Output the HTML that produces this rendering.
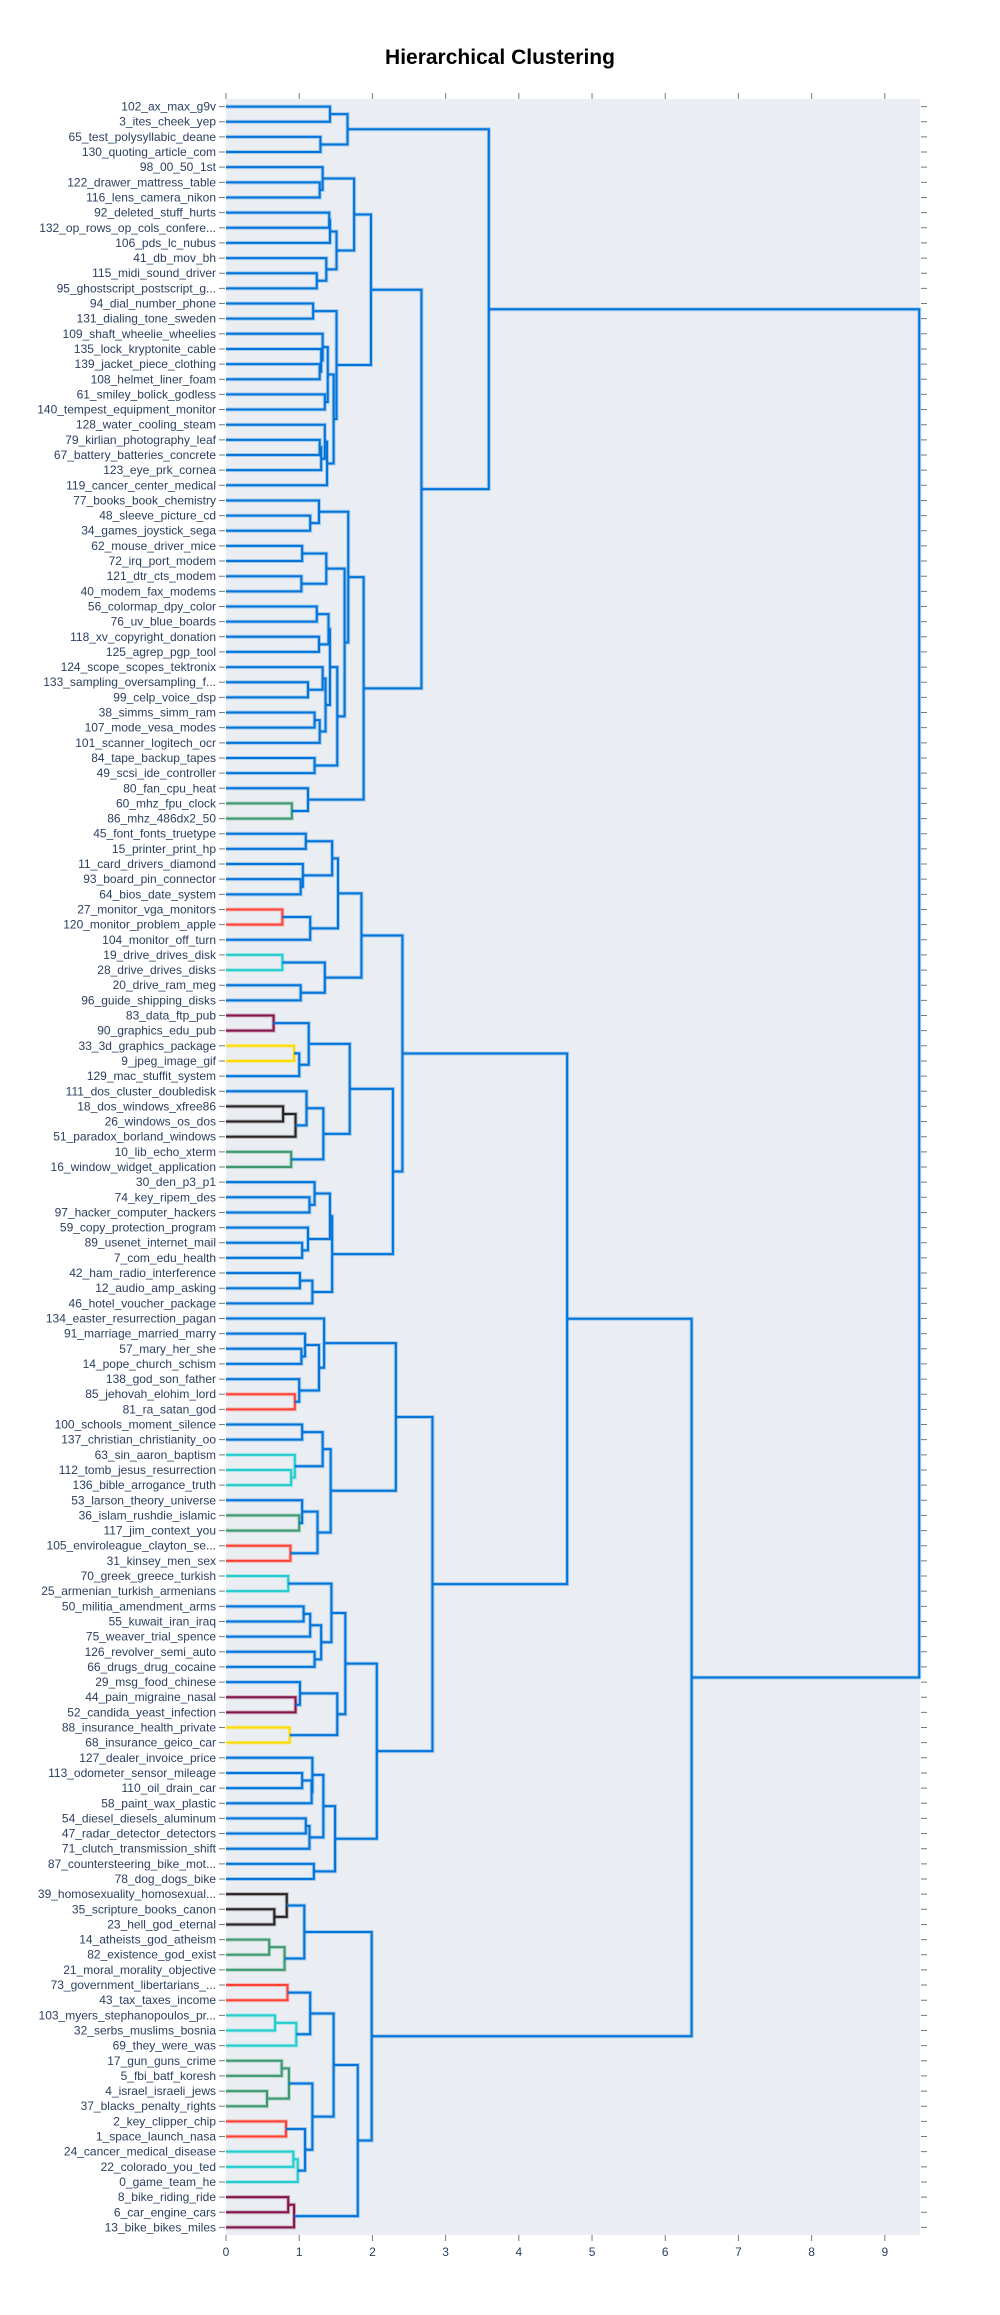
<!DOCTYPE html>
<html><head><meta charset="utf-8"><title>Hierarchical Clustering</title>
<style>
html,body{margin:0;padding:0;background:#fff;}
svg{display:block;font-family:"Liberation Sans",sans-serif;}
</style></head>
<body>
<svg id="chart" width="1000" height="2315" viewBox="0 0 1000 2315" xmlns="http://www.w3.org/2000/svg">
<text x="500" y="64" text-anchor="middle" font-size="21" font-weight="bold" fill="#000">Hierarchical Clustering</text>
<rect x="226" y="99" width="694" height="2136" fill="#EAEEF3"/>
<g id="links"></g>
<g id="yaxis"></g>
<g id="xaxis"></g>
</svg>
<script>
const leafLabels = ["102_ax_max_g9v","3_ites_cheek_yep","65_test_polysyllabic_deane","130_quoting_article_com","98_00_50_1st","122_drawer_mattress_table","116_lens_camera_nikon","92_deleted_stuff_hurts","132_op_rows_op_cols_confere...","106_pds_lc_nubus","41_db_mov_bh","115_midi_sound_driver","95_ghostscript_postscript_g...","94_dial_number_phone","131_dialing_tone_sweden","109_shaft_wheelie_wheelies","135_lock_kryptonite_cable","139_jacket_piece_clothing","108_helmet_liner_foam","61_smiley_bolick_godless","140_tempest_equipment_monitor","128_water_cooling_steam","79_kirlian_photography_leaf","67_battery_batteries_concrete","123_eye_prk_cornea","119_cancer_center_medical","77_books_book_chemistry","48_sleeve_picture_cd","34_games_joystick_sega","62_mouse_driver_mice","72_irq_port_modem","121_dtr_cts_modem","40_modem_fax_modems","56_colormap_dpy_color","76_uv_blue_boards","118_xv_copyright_donation","125_agrep_pgp_tool","124_scope_scopes_tektronix","133_sampling_oversampling_f...","99_celp_voice_dsp","38_simms_simm_ram","107_mode_vesa_modes","101_scanner_logitech_ocr","84_tape_backup_tapes","49_scsi_ide_controller","80_fan_cpu_heat","60_mhz_fpu_clock","86_mhz_486dx2_50","45_font_fonts_truetype","15_printer_print_hp","11_card_drivers_diamond","93_board_pin_connector","64_bios_date_system","27_monitor_vga_monitors","120_monitor_problem_apple","104_monitor_off_turn","19_drive_drives_disk","28_drive_drives_disks","20_drive_ram_meg","96_guide_shipping_disks","83_data_ftp_pub","90_graphics_edu_pub","33_3d_graphics_package","9_jpeg_image_gif","129_mac_stuffit_system","111_dos_cluster_doubledisk","18_dos_windows_xfree86","26_windows_os_dos","51_paradox_borland_windows","10_lib_echo_xterm","16_window_widget_application","30_den_p3_p1","74_key_ripem_des","97_hacker_computer_hackers","59_copy_protection_program","89_usenet_internet_mail","7_com_edu_health","42_ham_radio_interference","12_audio_amp_asking","46_hotel_voucher_package","134_easter_resurrection_pagan","91_marriage_married_marry","57_mary_her_she","14_pope_church_schism","138_god_son_father","85_jehovah_elohim_lord","81_ra_satan_god","100_schools_moment_silence","137_christian_christianity_oo","63_sin_aaron_baptism","112_tomb_jesus_resurrection","136_bible_arrogance_truth","53_larson_theory_universe","36_islam_rushdie_islamic","117_jim_context_you","105_enviroleague_clayton_se...","31_kinsey_men_sex","70_greek_greece_turkish","25_armenian_turkish_armenians","50_militia_amendment_arms","55_kuwait_iran_iraq","75_weaver_trial_spence","126_revolver_semi_auto","66_drugs_drug_cocaine","29_msg_food_chinese","44_pain_migraine_nasal","52_candida_yeast_infection","88_insurance_health_private","68_insurance_geico_car","127_dealer_invoice_price","113_odometer_sensor_mileage","110_oil_drain_car","58_paint_wax_plastic","54_diesel_diesels_aluminum","47_radar_detector_detectors","71_clutch_transmission_shift","87_countersteering_bike_mot...","78_dog_dogs_bike","39_homosexuality_homosexual...","35_scripture_books_canon","23_hell_god_eternal","14_atheists_god_atheism","82_existence_god_exist","21_moral_morality_objective","73_government_libertarians_...","43_tax_taxes_income","103_myers_stephanopoulos_pr...","32_serbs_muslims_bosnia","69_they_were_was","17_gun_guns_crime","5_fbi_batf_koresh","4_israel_israeli_jews","37_blacks_penalty_rights","2_key_clipper_chip","1_space_launch_nasa","24_cancer_medical_disease","22_colorado_you_ted","0_game_team_he","8_bike_riding_ride","6_car_engine_cars","13_bike_bikes_miles"];
// merges: node id of merge k = 141 + k
const mergeA = [0,2,141,5,4,7,146,11,10,147,145,13,17,16,15,19,155,22,158,21,160,157,152,151,
27,26,29,31,167,33,35,170,38,37,40,175,174,172,43,178,169,166,46,45,182,164,143,
48,51,50,188,53,192,191,56,58,195,194,60,62,200,199,66,203,65,69,205,202,72,71,75,74,210,77,214,213,208,198,
82,81,85,84,220,80,87,90,89,225,93,92,95,230,228,224,97,99,236,102,237,235,105,104,107,242,240,110,246,109,113,249,248,116,251,245,234,218,
119,118,121,259,258,124,126,263,262,129,131,266,133,135,270,269,268,265,138,275,274,261,256,187];
const mergeB = [1,3,142,6,144,8,9,12,148,149,150,14,18,153,154,20,156,23,24,159,25,161,162,163,
28,165,30,32,168,34,36,171,39,173,41,42,176,177,44,179,180,181,47,183,184,185,186,
49,52,189,190,54,55,193,57,59,196,197,61,63,64,201,67,68,204,70,206,207,73,209,76,211,212,78,79,215,216,217,
83,219,86,221,222,223,88,91,226,227,94,229,96,231,232,233,98,100,101,103,238,239,106,241,108,243,244,111,112,247,114,115,250,117,252,253,254,255,
120,257,122,123,260,125,127,128,264,130,132,267,134,136,137,271,272,273,139,140,276,277,278,279];
const mergeH = [1.42,1.29,1.66,1.28,1.32,1.41,1.42,1.24,1.37,1.51,1.75,1.19,1.28,1.30,1.32,1.35,1.39,1.28,1.30,1.35,1.38,1.47,1.51,1.98,
1.15,1.27,1.04,1.03,1.37,1.24,1.27,1.40,1.12,1.32,1.21,1.28,1.36,1.42,1.21,1.52,1.62,1.67,0.90,1.12,1.88,2.67,3.59,
1.09,1.02,1.05,1.45,0.77,1.15,1.53,0.77,1.02,1.35,1.85,0.65,0.93,1.00,1.13,0.78,0.95,1.10,0.89,1.33,1.69,1.14,1.21,1.04,1.12,1.42,1.01,1.18,1.45,2.28,2.41,
1.03,1.08,0.94,1.00,1.27,1.34,1.04,0.89,0.94,1.32,1.00,1.04,0.88,1.25,1.43,2.32,0.85,1.06,1.15,1.21,1.30,1.44,0.95,1.01,0.87,1.52,1.63,1.04,1.17,1.18,1.09,1.14,1.33,1.20,1.49,2.06,2.82,4.66,
0.66,0.83,0.59,0.80,1.07,0.84,0.67,0.96,1.15,0.76,0.56,0.86,0.82,0.92,0.98,1.08,1.18,1.47,0.85,0.93,1.80,1.99,6.36,9.47];
// colour codes per merge: b blue, g green, r red, c cyan, p purple, y yellow, k black
const mergeC = [
"b","b","b","b","b","b","b","b","b","b","b","b","b","b","b","b","b","b","b","b","b","b","b","b",
"b","b","b","b","b","b","b","b","b","b","b","b","b","b","b","b","b","b","g","b","b","b","b",
"b","b","b","b","r","b","b","c","b","b","b","p","y","b","b","k","k","b","g","b","b","b","b","b","b","b","b","b","b","b","b",
"b","b","r","b","b","b","b","c","c","b","g","b","r","b","b","b","c","b","b","b","b","b","p","b","y","b","b","b","b","b","b","b","b","b","b","b","b","b",
"k","k","g","g","b","r","c","c","b","g","g","g","r","c","c","b","b","b","p","p","b","b","b","b"];
const xTicks = [0,1,2,3,4,5,6,7,8,9];

const COLORS = {b:"rgb(0,116,217)",g:"rgb(61,153,112)",r:"rgb(255,65,54)",c:"rgb(35,205,205)",p:"rgb(133,20,75)",y:"rgb(255,220,0)",k:"rgb(40,35,35)"};
const X0 = 226, X1 = 920, XMAX = 9.48, Y0 = 99, Y1 = 2235;
const N = leafLabels.length;
function xs(h){ return X0 + (X1 - X0) * h / XMAX; }
function ys(pos){ return Y0 + (Y1 - Y0) * (pos * 10 + 5) / (N * 10); }
const NS = "http://www.w3.org/2000/svg";
const nodeH = [], nodeP = [];
for (let i = 0; i < N; i++) { nodeH[i] = 0; nodeP[i] = i; }
const links = document.getElementById("links");
for (let k = 0; k < mergeA.length; k++) {
  const a = mergeA[k], b = mergeB[k], h = mergeH[k];
  const id = N + k;
  nodeH[id] = h; nodeP[id] = (nodeP[a] + nodeP[b]) / 2;
  const d = "M" + xs(nodeH[a]) + "," + ys(nodeP[a]) + "H" + xs(h) + "V" + ys(nodeP[b]) + "H" + xs(nodeH[b]);
  const col = COLORS[mergeC[k]] || COLORS.b;
  const halo = document.createElementNS(NS, "path");
  halo.setAttribute("d", d); halo.setAttribute("fill", "none"); halo.setAttribute("stroke", col);
  halo.setAttribute("stroke-width", "4"); halo.setAttribute("stroke-opacity", "0.3");
  
  
  links.appendChild(halo);
  const p = document.createElementNS(NS, "path");
  p.setAttribute("d", d); p.setAttribute("fill", "none"); p.setAttribute("stroke", col);
  p.setAttribute("stroke-width", "2");
  
  
  links.appendChild(p);
}
const yaxis = document.getElementById("yaxis");
for (let i = 0; i < N; i++) {
  const y = ys(i);
  const t = document.createElementNS(NS, "text");
  t.setAttribute("x", 216); t.setAttribute("y", y + 4);
  t.setAttribute("text-anchor", "end"); t.setAttribute("font-size", "12"); t.setAttribute("fill", "#2a3f5f");
  t.textContent = leafLabels[i];
  
  
  yaxis.appendChild(t);
  const tk = document.createElementNS(NS, "path");
  tk.setAttribute("d", "M219," + y + "H225M921," + y + "H927");
  tk.setAttribute("stroke", "#777"); tk.setAttribute("stroke-width", "1");
  
  
  yaxis.appendChild(tk);
}
const xaxis = document.getElementById("xaxis");
for (const v of xTicks) {
  const x = xs(v);
  const tk = document.createElementNS(NS, "path");
  tk.setAttribute("d", "M" + x + ",93V99M" + x + ",2235V2241");
  tk.setAttribute("stroke", "#777"); tk.setAttribute("stroke-width", "1");
  
  
  xaxis.appendChild(tk);
  const t = document.createElementNS(NS, "text");
  t.setAttribute("x", x); t.setAttribute("y", 2256);
  t.setAttribute("text-anchor", "middle"); t.setAttribute("font-size", "12"); t.setAttribute("fill", "#2a3f5f");
  t.textContent = String(v);
  
  
  xaxis.appendChild(t);
}
</script>
</body></html>
